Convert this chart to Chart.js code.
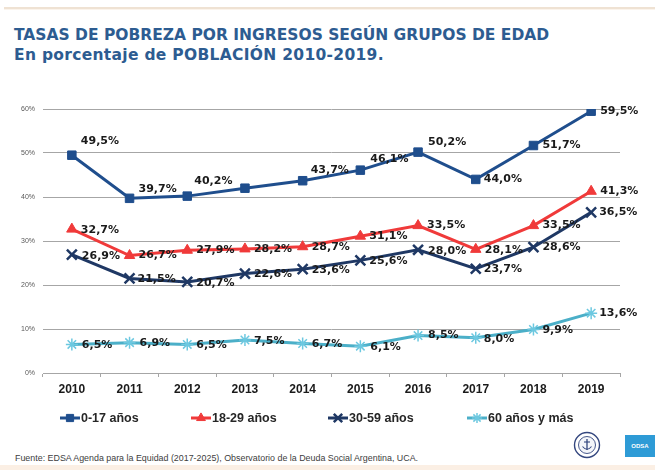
<!DOCTYPE html>
<html><head><meta charset="utf-8">
<script src="https://cdn.jsdelivr.net/npm/chart.js@4.4.0/dist/chart.umd.min.js"></script>
<style>
html,body{margin:0;padding:0;background:#fff;}
#wrap{position:relative;width:655px;height:470px;overflow:hidden;background:#fff;}
.topline{position:absolute;left:4px;top:7px;width:651px;height:2px;background:#EFE2D3;}
.topline2{position:absolute;left:4px;top:9px;width:651px;height:1px;background:#FBF4EC;}
#title{position:absolute;left:14px;top:25px;font-family:"DejaVu Sans",sans-serif;font-weight:bold;font-size:15.5px;line-height:20px;color:#2D5C91;white-space:nowrap;}
#title .l2{letter-spacing:0.3px;}
#chartbox{position:absolute;left:0;top:90px;width:655px;height:320px;}
#legend{position:absolute;top:409px;left:0;width:655px;height:18px;}
.li{position:absolute;top:0;height:18px;display:flex;align-items:center;font-family:"Liberation Sans",sans-serif;font-weight:bold;font-size:12.5px;color:#262626;white-space:nowrap;}
.li canvas{display:block;margin-right:1px;}
#footer{position:absolute;left:15px;top:453px;font-family:"Liberation Sans",sans-serif;font-size:8.9px;line-height:10px;color:#404040;white-space:nowrap;}
.bottomstrip{position:absolute;left:0;top:465px;width:655px;height:5px;background:#FBEFE4;}
#odsa{position:absolute;left:625px;top:435px;width:30px;height:22px;background:#2E9BD6;color:#fff;font-family:"Liberation Sans",sans-serif;font-weight:bold;font-size:6px;line-height:22px;text-align:center;}
#seal{position:absolute;left:573px;top:431px;}
</style>
</head>
<body>
<div id="wrap">
  <div class="topline"></div><div class="topline2"></div>
  <div id="title">TASAS DE POBREZA POR INGRESOS SEGÚN GRUPOS DE EDAD<br><span class="l2">En porcentaje de POBLACIÓN 2010-2019.</span></div>
  <div id="chartbox"><canvas id="c" width="655" height="320"></canvas></div>
  <div id="legend"></div>
  <div id="footer">Fuente: EDSA Agenda para la Equidad (2017-2025), Observatorio de la Deuda Social Argentina, UCA.</div>
  <svg id="seal" width="28" height="28" viewBox="0 0 28 28">
    <circle cx="14" cy="14" r="12.5" fill="#fff" stroke="#34477F" stroke-width="1.4"/>
    <circle cx="14" cy="14" r="8.5" fill="#F4F6FA" stroke="#34477F" stroke-width="0.9"/>
    <line x1="14" y1="8" x2="14" y2="19" stroke="#34477F" stroke-width="1.3"/>
    <line x1="11" y1="11" x2="17" y2="11" stroke="#34477F" stroke-width="1.1"/>
    <path d="M9.5 15.5 Q14 21 18.5 15.5" fill="none" stroke="#34477F" stroke-width="1.1"/>
  </svg>
  <div id="odsa">ODSA</div>
  <div class="bottomstrip"></div>
</div>
<script>
// ---- data ----
const years = ['2010','2011','2012','2013','2014','2015','2016','2017','2018','2019'];
const seriesNames = ['0-17 años','18-29 años','30-59 años','60 años y más'];
const edad0a17 = [49.5, 39.7, 40.2, 42.0, 43.7, 46.1, 50.2, 44.0, 51.7, 59.5];
const edad18a29 = [32.7, 26.7, 27.9, 28.2, 28.7, 31.1, 33.5, 28.1, 33.5, 41.3];
const edad30a59 = [26.9, 21.5, 20.7, 22.6, 23.6, 25.6, 28.0, 23.7, 28.6, 36.5];
const edad60ymas = [6.5, 6.9, 6.5, 7.5, 6.7, 6.1, 8.5, 8.0, 9.9, 13.6];
const yTickValues = [0, 10, 20, 30, 40, 50, 60];

// ---- styles ----
const styles = [
  {color:'#1F4E8D', pointColor:'#1F4E8D', pointStyle:'rect', radius:6, pbw:1},
  {color:'#F03A3A', pointColor:'#F03A3A', pointStyle:'triangle', radius:6, pbw:1},
  {color:'#1F3864', pointColor:'#1F3864', pointStyle:'crossRot', radius:7, pbw:2.5},
  {color:'#4BAFC8', pointColor:'#6CC8E0', pointStyle:'star', radius:6, pbw:1.5}
];
// label offsets (px) relative to each point; null dx = label not shown
const labelOffsets = [
  {dx:[9,9,7,null,8,10,10,8,9,9], dy:[-14,-9,-15,0,-11,-11,-10,0,0,0]},
  {dx:[9,9,9,9,9,9,9,9,9,9], dy:[1,0,0,0,0,0,0,1,0,0]},
  {dx:[10,8,9,9,9,9,10,8,9,8], dy:[2,1,1,1,1,1,1,0,0,0]},
  {dx:[10,10,9,9,9,10,10,8,9,8], dy:[1,1,1,1,1,1,0,1,1,0]}
];
const seriesValues = [edad0a17, edad18a29, edad30a59, edad60ymas];

const fmt = v => v.toFixed(1).replace('.', ',') + '%';

const labelPlugin = {
  id: 'valueLabels',
  afterDatasetsDraw(chart) {
    const ctx = chart.ctx;
    ctx.save();
    ctx.font = 'bold 11px "DejaVu Sans"';
    ctx.fillStyle = '#1A1A1A';
    ctx.textAlign = 'left';
    ctx.textBaseline = 'middle';
    chart.data.datasets.forEach((ds, i) => {
      const meta = chart.getDatasetMeta(i);
      meta.data.forEach((pt, j) => {
        const dx = labelOffsets[i].dx[j];
        if (dx === null) return;
        ctx.fillText(fmt(ds.data[j]), pt.x + dx, pt.y + labelOffsets[i].dy[j]);
      });
    });
    ctx.restore();
  }
};

const datasets = seriesValues.map((vals, i) => ({
  label: seriesNames[i],
  data: vals,
  borderColor: styles[i].color,
  backgroundColor: styles[i].pointColor,
  borderWidth: 3,
  pointStyle: styles[i].pointStyle,
  pointRadius: styles[i].radius,
  pointHoverRadius: styles[i].radius,
  pointBorderWidth: styles[i].pbw,
  pointBorderColor: styles[i].pointColor,
  pointBackgroundColor: styles[i].pointColor,
  tension: 0,
  fill: false,
  order: 3 - i
}));

new Chart(document.getElementById('c'), {
  type: 'line',
  data: { labels: years, datasets },
  options: {
    responsive: false,
    animation: false,
    layout: { padding: { top: 19, right: 35, left: 0, bottom: 0 } },
    plugins: { legend: { display: false }, tooltip: { enabled: false }, title: { display: false } },
    scales: {
      x: {
        offset: true,
        grid: { display: true, drawOnChartArea: false, drawTicks: true, tickLength: 4, offset: true, color: '#A6A6A6' },
        border: { display: true, color: '#A6A6A6', width: 1 },
        ticks: { padding: 5, color: '#1A1A1A', font: { family: 'Liberation Sans', weight: 'bold', size: 12 }, maxRotation: 0, autoSkip: false },
        afterFit: s => { s.height = 37; }
      },
      y: {
        min: yTickValues[0],
        max: yTickValues[yTickValues.length - 1],
        afterBuildTicks: s => { s.ticks = yTickValues.map(v => ({ value: v })); },
        grid: { color: '#A6A6A6', drawTicks: false, lineWidth: 1 },
        border: { display: false },
        ticks: { padding: 8, color: '#595959', font: { family: 'Liberation Sans', size: 7 }, callback: v => v + '%' },
        afterFit: s => { s.width = 43; }
      }
    }
  },
  plugins: [labelPlugin]
});

// ---- legend ----
const legendLeft = [60, 191, 328, 467];
const legend = document.getElementById('legend');
seriesNames.forEach((name, i) => {
  const item = document.createElement('div');
  item.className = 'li';
  item.style.left = legendLeft[i] + 'px';
  const cv = document.createElement('canvas');
  cv.width = 20; cv.height = 14;
  const g = cv.getContext('2d');
  g.strokeStyle = styles[i].color;
  g.lineWidth = 3;
  g.beginPath(); g.moveTo(0, 7); g.lineTo(20, 7); g.stroke();
  g.strokeStyle = styles[i].pointColor;
  g.fillStyle = styles[i].pointColor;
  g.lineWidth = styles[i].pbw;
  if (Chart.helpers && Chart.helpers.drawPoint) {
    Chart.helpers.drawPoint(g, { pointStyle: styles[i].pointStyle, radius: styles[i].radius * 0.85, rotation: 0, borderWidth: styles[i].pbw }, 10, 7);
  }
  item.appendChild(cv);
  const t = document.createElement('span');
  t.textContent = name;
  item.appendChild(t);
  legend.appendChild(item);
});
</script>
</body></html>
